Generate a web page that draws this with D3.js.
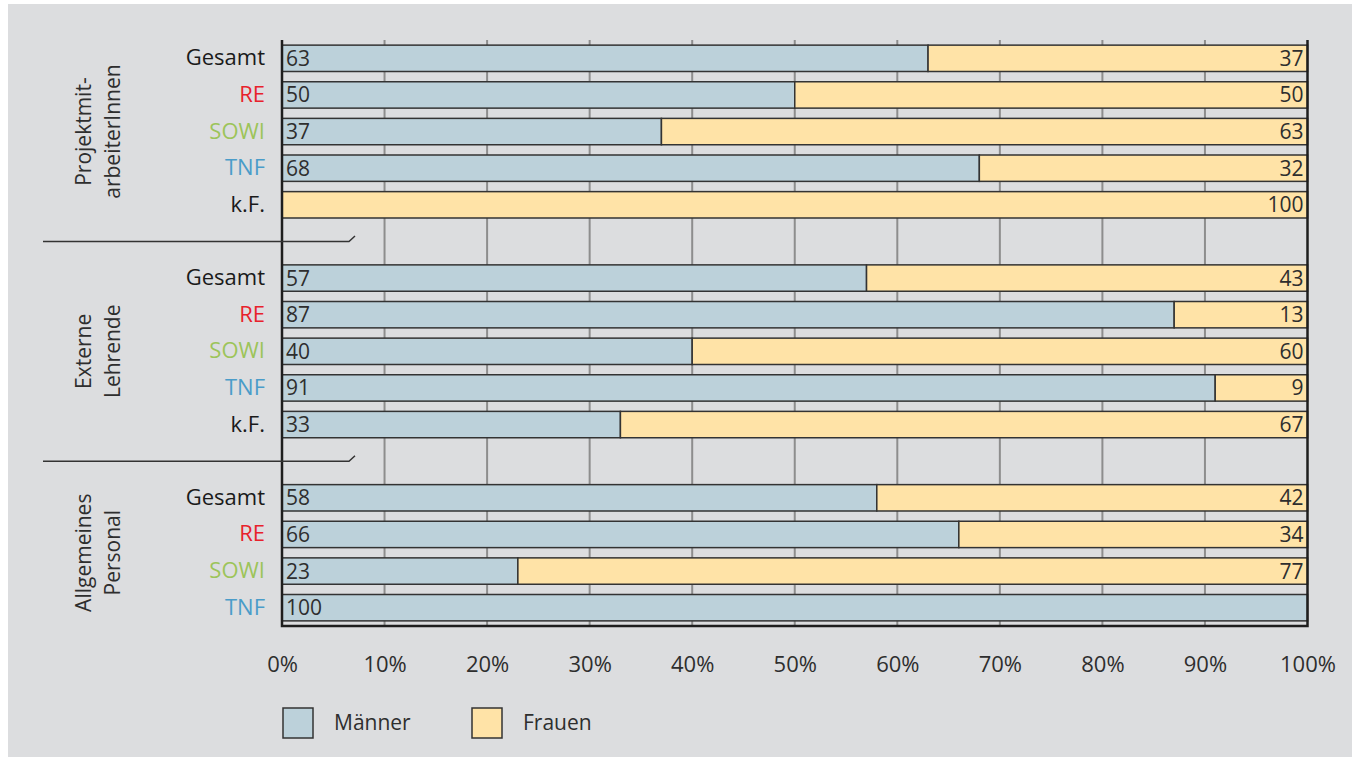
<!DOCTYPE html>
<html lang="de">
<head>
<meta charset="UTF-8">
<title>Männer und Frauen nach Personalgruppe</title>
<script src="https://cdn.jsdelivr.net/npm/d3@7"></script>
<style>
  html, body { margin: 0; padding: 0; background: #fff; }
  svg { display: block; font-family: "Open Sans", "Noto Sans", sans-serif; }
</style>
</head>
<body>
<svg id="chart" width="1356" height="759"></svg>
<script>
// Daten
const groups = [['Projektmit-', 'arbeiterInnen'], ['Externe', 'Lehrende'], ['Allgemeines', 'Personal']];
const categories = [
    ['Gesamt', 'RE', 'SOWI', 'TNF', 'k.F.'],
    ['Gesamt', 'RE', 'SOWI', 'TNF', 'k.F.'],
    ['Gesamt', 'RE', 'SOWI', 'TNF']
];
const maenner = [[63, 50, 37, 68, 0], [57, 87, 40, 91, 33], [58, 66, 23, 100]];
const frauen  = [[37, 50, 63, 32, 100], [43, 13, 60, 9, 67], [42, 34, 77, 0]];
const xTicks = [0, 10, 20, 30, 40, 50, 60, 70, 80, 90, 100];
const seriesNames = ['Männer', 'Frauen'];

const COLORS = { 'Männer': '#bcd1da', 'Frauen': '#ffe3a7' };
const CAT_COLORS = { 'Gesamt': '#1a1a1a', 'RE': '#e8212b', 'SOWI': '#9cc45a', 'TNF': '#4a9cc9', 'k.F.': '#1a1a1a' };

// Zeilen inkl. Leerzeilen zwischen den Gruppen
const rows = [];
const slotKeys = [];
groups.forEach((g, gi) => {
    if (gi > 0) slotKeys.push('gap-' + gi);
    categories[gi].forEach((c, ci) => {
        const key = gi + '-' + ci;
        slotKeys.push(key);
        rows.push({ key, group: gi, cat: c, m: maenner[gi][ci], f: frauen[gi][ci] });
    });
});

const svg = d3.select('#chart');

// Hintergrund
svg.append('rect')
    .attr('x', 8).attr('y', 4)
    .attr('width', 1344).attr('height', 753)
    .attr('fill', '#dcdddf');

const plotTop = 40, plotBottom = 626;
const x = d3.scaleLinear().domain([0, 100]).range([282, 1307.5]);
const y = d3.scaleBand().domain(slotKeys).range([plotTop, plotBottom])
    .paddingInner(0.28).paddingOuter(0.14);

// Gitterlinien
svg.append('g').selectAll('line')
    .data(xTicks.filter(t => t > 0 && t < 100))
    .enter().append('line')
    .attr('x1', d => x(d)).attr('x2', d => x(d))
    .attr('y1', plotTop).attr('y2', plotBottom)
    .attr('stroke', '#8d8d8d')
    .attr('stroke-width', 2);

// Balken
const bars = svg.append('g');
rows.forEach(r => {
    const yy = y(r.key), h = y.bandwidth();
    if (r.m > 0) {
        bars.append('rect')
            .attr('x', x(0)).attr('y', yy)
            .attr('width', x(r.m) - x(0)).attr('height', h)
            .attr('fill', COLORS['Männer'])
            .attr('stroke', '#333').attr('stroke-width', 1.5);
    }
    if (r.f > 0) {
        bars.append('rect')
            .attr('x', x(r.m)).attr('y', yy)
            .attr('width', x(r.m + r.f) - x(r.m)).attr('height', h)
            .attr('fill', COLORS['Frauen'])
            .attr('stroke', '#333').attr('stroke-width', 1.5);
    }
});

// Werte in den Balken
const labels = svg.append('g')
    .style('font-size', '21px')
    .attr('fill', '#2e2e2e');
rows.forEach(r => {
    const cy = y(r.key) + y.bandwidth() / 2 + 7.5;
    if (r.m > 0) {
        labels.append('text').attr('x', x(0) + 4).attr('y', cy).text(r.m);
    }
    if (r.f > 0) {
        labels.append('text').attr('x', x(100) - 4).attr('y', cy)
            .attr('text-anchor', 'end').text(r.f);
    }
});

// Achsenrahmen
svg.append('path')
    .attr('d', `M${x(0)},${plotTop}V${plotBottom}H${x(100)}V${plotTop}`)
    .attr('fill', 'none')
    .attr('stroke', '#1e1e1e')
    .attr('stroke-width', 2.5);

// X-Achse (Prozent)
const xAxis = svg.append('g')
    .attr('transform', `translate(0,${plotBottom})`)
    .call(d3.axisBottom(x).tickValues(xTicks).tickSize(0).tickPadding(30).tickFormat(d => d + '%'));
xAxis.select('.domain').remove();
xAxis.selectAll('text')
    .style('font-size', '22px')
    .style('font-family', '"Open Sans", "Noto Sans", sans-serif')
    .attr('fill', '#2e2e2e');

// Y-Achse (Kategorien)
const rowByKey = {};
rows.forEach(r => rowByKey[r.key] = r);
const yAxis = svg.append('g')
    .attr('transform', `translate(${x(0)},0)`)
    .call(d3.axisLeft(y).tickValues(rows.map(r => r.key)).tickSize(0).tickPadding(17)
        .tickFormat(k => rowByKey[k].cat));
yAxis.select('.domain').remove();
yAxis.selectAll('text')
    .style('font-size', '22px')
    .style('font-family', '"Open Sans", "Noto Sans", sans-serif')
    .attr('fill', k => CAT_COLORS[rowByKey[k].cat]);

// Gruppenbeschriftungen (gedreht)
groups.forEach((g, gi) => {
    const keys = rows.filter(r => r.group === gi).map(r => r.key);
    const cy = (y(keys[0]) + y(keys[keys.length - 1]) + y.bandwidth()) / 2;
    const t = svg.append('text')
        .attr('transform', `translate(0,${cy}) rotate(-90)`)
        .attr('text-anchor', 'middle')
        .style('font-size', '21px')
        .attr('fill', '#2e2e2e');
    g.forEach((line, li) => {
        t.append('tspan').attr('x', 0).attr('y', 91 + li * 29).text(line);
    });
});

// Trennlinien zwischen den Gruppen
slotKeys.filter(k => k.startsWith('gap')).forEach(k => {
    const cy = y(k) + y.bandwidth() / 2;
    svg.append('path')
        .attr('d', `M43,${cy}H349L355,${cy - 5.5}`)
        .attr('fill', 'none')
        .attr('stroke', '#333')
        .attr('stroke-width', 1.5);
});

// Legende
const legendX = [283, 472];
seriesNames.forEach((s, i) => {
    svg.append('rect')
        .attr('x', legendX[i]).attr('y', 708)
        .attr('width', 30).attr('height', 30)
        .attr('fill', COLORS[s])
        .attr('stroke', '#333').attr('stroke-width', 1.5);
    svg.append('text')
        .attr('x', legendX[i] + 51).attr('y', 730)
        .style('font-size', '21px')
        .attr('fill', '#2e2e2e')
        .text(s);
});
</script>
</body>
</html>
